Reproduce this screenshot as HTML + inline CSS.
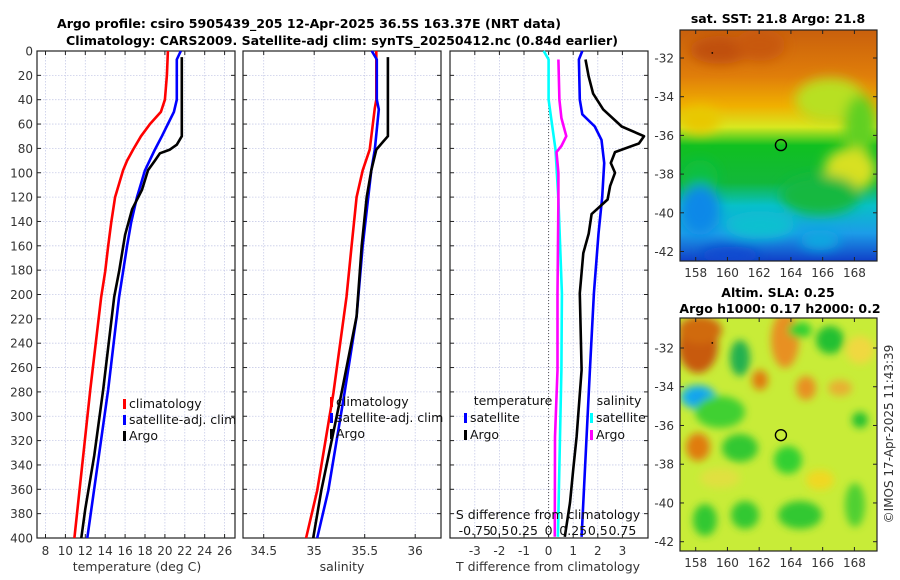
<!DOCTYPE html>
<html><head><meta charset="utf-8"><style>
html,body{margin:0;padding:0;background:#fff;}
svg{display:block;font-family:"DejaVu Sans","Liberation Sans",sans-serif;}
</style></head><body>
<svg id="fig" width="900" height="580" viewBox="0 0 900 580" xmlns="http://www.w3.org/2000/svg">
<defs>
<filter id="blur6" x="-30%" y="-30%" width="160%" height="160%"><feGaussianBlur stdDeviation="6"/></filter>
<filter id="blur4" x="-30%" y="-30%" width="160%" height="160%"><feGaussianBlur stdDeviation="4"/></filter>
<clipPath id="clipM1"><rect x="680" y="30" width="197" height="231"/></clipPath>
<clipPath id="clipM2"><rect x="680" y="318" width="197" height="233"/></clipPath>
<linearGradient id="sstGrad" x1="0" y1="0" x2="0" y2="1">
<stop offset="0" stop-color="#c9600c"/><stop offset="0.2" stop-color="#e07e0a"/>
<stop offset="0.33" stop-color="#f0b000"/><stop offset="0.42" stop-color="#d8e820"/>
<stop offset="0.5" stop-color="#10c020"/><stop offset="0.66" stop-color="#12b83a"/>
<stop offset="0.76" stop-color="#08c0c8"/><stop offset="0.88" stop-color="#1c9ce8"/>
<stop offset="1" stop-color="#1040c8"/></linearGradient>
</defs>
<g id="titles" font-weight="bold" font-size="12.5" text-anchor="middle" fill="#000">
<text x="309" y="28" textLength="504" lengthAdjust="spacingAndGlyphs">Argo profile: csiro 5905439_205 12-Apr-2025 36.5S 163.37E (NRT data)</text>
<text x="342" y="45" textLength="552" lengthAdjust="spacingAndGlyphs">Climatology: CARS2009. Satellite-adj clim: synTS_20250412.nc (0.84d earlier)</text>
</g>
<g id="p1"></g>
<g id="p2"></g>
<g id="p3"></g>
<g id="m1"></g>
<g id="m2"></g>
</svg>
<script>
// ---- data ----
const depthTicks = [0,20,40,60,80,100,120,140,160,180,200,220,240,260,280,300,320,340,360,380,400];
const tempTicks = [8,10,12,14,16,18,20,22,24,26];
const salTicks = [34.5,35,35.5,36];
const tdiffTicks = [-3,-2,-1,0,1,2,3];
const sdiffTicks = [-0.75,-0.5,-0.25,0,0.25,0.5,0.75];
const sdiffLabels = ["-0.75","0.5","0.25","0","0.25","0.5","0.75"];

const climTDepth = [0,20,40,50,60,70,81,90,98,120,141,160,181,202,278,400];
const climT = [20.3,20.2,20.0,19.6,18.5,17.6,16.8,16.2,15.8,15.0,14.6,14.3,14.0,13.6,12.5,10.9];
const satTDepth = [0,7,40,50,60,70,81,98,120,141,160,181,202,278,400];
const satT = [21.6,21.2,21.2,20.9,20.3,19.7,19.0,18.0,17.2,16.6,16.2,15.8,15.4,14.3,12.2];
const argoTDepth = [5,70,77,81,84,90,98,114,130,151,181,202,278,332,376,400];
const argoT = [21.7,21.7,21.2,20.5,19.5,19.0,18.3,17.7,16.7,16.0,15.4,14.9,13.8,12.9,12.0,11.6];

const climSDepth = [0,40,47,81,98,120,160,202,281,361,400];
const climS = [35.615,35.615,35.6,35.55,35.48,35.42,35.37,35.32,35.19,35.03,34.92];
const satSDepth = [0,7,40,48,81,98,160,218,281,361,400];
const satS = [35.57,35.62,35.62,35.64,35.6,35.565,35.48,35.42,35.30,35.14,35.03];
const argoSDepth = [5,70,81,98,120,160,218,281,361,400];
const argoS = [35.73,35.73,35.615,35.565,35.52,35.47,35.42,35.27,35.07,34.99];

const satTdDepth = [0,7,40,52,62,73,92,120,150,199,262,399];
const satTd = [1.37,1.23,1.27,1.37,1.88,2.15,2.26,2.18,2.03,1.84,1.68,1.34];
const argoTdDepth = [7,21,35,48,62,70,76,83,92,100,111,122,134,150,166,199,262,317,344,371,399];
const argoTd = [1.5,1.63,1.81,2.22,2.97,3.88,3.67,2.7,2.53,2.7,2.5,2.4,1.75,1.63,1.41,1.27,1.34,1.14,1.0,0.87,0.66];
const satSdDepth = [0,7,40,81,122,199,262,399];
const satSd = [-0.05,0,0,0.07,0.10,0.135,0.13,0.095];
const argoSdDepth = [7,40,55,70,78,83,100,122,199,262,317,399];
const argoSd = [0.10,0.11,0.13,0.18,0.13,0.08,0.10,0.10,0.09,0.09,0.065,0.063];

const lonTicks = [158,160,162,164,166,168];
const latTicks = [-32,-34,-36,-38,-40,-42];
const argoLon = 163.37, argoLat = -36.5;

// ---- helpers ----
const NS = "http://www.w3.org/2000/svg";
function mk(parent, tag, attrs){const e=document.createElementNS(NS,tag);for(const k in attrs)e.setAttribute(k,attrs[k]);parent.appendChild(e);return e;}
const yTop=51, yBot=538;
function yD(d){return yTop+(d/400)*(yBot-yTop);}

function drawAxes(g, x0, x1, xTicks, xScale, labels, showY){
  xTicks.forEach(t=>{const x=xScale(t);
    const l=mk(g,'line',{x1:x,x2:x,y1:yTop,y2:yBot,stroke:'#c8cce8','stroke-width':0.8,'stroke-dasharray':'1.5,1.5'});
    });
  depthTicks.forEach(d=>{const y=yD(d);
    const l=mk(g,'line',{x1:x0,x2:x1,y1:y,y2:y,stroke:'#c8cce8','stroke-width':0.8,'stroke-dasharray':'1.5,1.5'});
    });
  const fr=mk(g,'rect',{x:x0,y:yTop,width:x1-x0,height:yBot-yTop,fill:'none',stroke:'#222','stroke-width':1.2});
  
  xTicks.forEach((t,i)=>{const x=xScale(t);
    mk(g,'line',{x1:x,x2:x,y1:yBot,y2:yBot-4,stroke:'#222'});
    mk(g,'line',{x1:x,x2:x,y1:yTop,y2:yTop+4,stroke:'#222'});
    const tx=mk(g,'text',{x:x,y:yBot+17,'font-size':12,'text-anchor':'middle',fill:'#333'});
    tx.textContent=labels?labels[i]:String(t);
    });
  depthTicks.forEach(d=>{const y=yD(d);
    mk(g,'line',{x1:x0,x2:x0+4,y1:y,y2:y,stroke:'#222'});
    mk(g,'line',{x1:x1,x2:x1-4,y1:y,y2:y,stroke:'#222'});
    if(showY){const tx=mk(g,'text',{x:x0-4,y:y+4.5,'font-size':12,'text-anchor':'end',fill:'#333'});
      tx.textContent=String(d);
      }});
}
function drawLine(g, xs, ds, xScale, color, name, w){
  const pts=xs.map((v,i)=>xScale(v).toFixed(1)+','+yD(ds[i]).toFixed(1)).join(' ');
  const p=mk(g,'polyline',{points:pts,fill:'none',stroke:color,'stroke-width':w||2.6,'stroke-linejoin':'round'});
  
}
function legend(g, x, y, color, label){
  const r=mk(g,'rect',{x:x,y:y-9,width:3,height:10,fill:color});
  
  const t=mk(g,'text',{x:x+6,y:y,'font-size':12.5,fill:'#111'});t.textContent=label;
  
}
function label(g,x,y,txt,name,extra){const t=mk(g,'text',Object.assign({x:x,y:y,'font-size':12.5,'text-anchor':'middle',fill:'#333'},extra||{}));t.textContent=txt;return t;}

// ---- panel 1 ----
const p1=document.getElementById('p1');
const xT=t=>45.5+(t-8)*9.95;
drawAxes(p1,37,235,tempTicks,xT,null,true);
drawLine(p1,climT,climTDepth,xT,'#ff0000','climatology-temp-line');
drawLine(p1,satT,satTDepth,xT,'#0000ff','satellite-temp-line');
drawLine(p1,argoT,argoTDepth,xT,'#000000','argo-temp-line');
legend(p1,123,408,'#ff0000','climatology');
legend(p1,123,424,'#0000ff','satellite-adj. clim');
legend(p1,123,440,'#000000','Argo');
label(p1,137,571,'temperature (deg C)','x-axis-title');

// ---- panel 2 ----
const p2=document.getElementById('p2');
const xS=s=>263.7+(s-34.5)*101;
drawAxes(p2,243,441,salTicks,xS,null,false);
drawLine(p2,climS,climSDepth,xS,'#ff0000','climatology-salinity-line');
drawLine(p2,satS,satSDepth,xS,'#0000ff','satellite-salinity-line');
drawLine(p2,argoS,argoSDepth,xS,'#000000','argo-salinity-line');
legend(p2,330,406,'#ff0000','climatology');
legend(p2,330,422,'#0000ff','satellite-adj. clim');
legend(p2,330,438,'#000000','Argo');
label(p2,342,571,'salinity','x-axis-title');

// ---- panel 3 ----
const p3=document.getElementById('p3');
const xTd=t=>548.6+t*24.6;
const xSd=s=>548.6+s*4*24.6;
drawAxes(p3,450,648,tdiffTicks,xTd,null,false);
const zl=mk(p3,'line',{x1:xTd(0),x2:xTd(0),y1:yTop,y2:yBot,stroke:'#555','stroke-width':1,'stroke-dasharray':'1,2'});

drawLine(p3,satSd,satSdDepth,xSd,'#00ffff','satellite-salinity-diff-line');
drawLine(p3,argoSd,argoSdDepth,xSd,'#ff00ff','argo-salinity-diff-line');
drawLine(p3,satTd,satTdDepth,xTd,'#0000ff','satellite-temp-diff-line');
drawLine(p3,argoTd,argoTdDepth,xTd,'#000000','argo-temp-diff-line');
label(p3,513,405,'temperature','legend-title',{fill:'#111'});
legend(p3,464,422,'#0000ff','satellite');
legend(p3,464,439,'#000000','Argo');
label(p3,619,405,'salinity','legend-title',{fill:'#111'});
legend(p3,590,422,'#00ffff','satellite');
legend(p3,590,439,'#ff00ff','Argo');
label(p3,548,519,'S difference from climatology','s-axis-title',{fill:'#111'});
sdiffTicks.forEach((s,i)=>{label(p3,xSd(s),535,sdiffLabels[i],'s-tick-label',{fill:'#111','font-size':12.5});});
label(p3,548,571,'T difference from climatology','x-axis-title');

// ---- maps ----
function mapAxes(g,x0,y0,w,h,latTop,latScale,lonScale){
  const fr=mk(g,'rect',{x:x0,y:y0,width:w,height:h,fill:'none',stroke:'#222','stroke-width':1.2});
  
  lonTicks.forEach(l=>{const x=lonScale(l);
    mk(g,'line',{x1:x,x2:x,y1:y0+h,y2:y0+h-4,stroke:'#222'});mk(g,'line',{x1:x,x2:x,y1:y0,y2:y0+4,stroke:'#222'});
    const t=mk(g,'text',{x:x,y:y0+h+16,'font-size':12,'text-anchor':'middle',fill:'#333'});t.textContent=String(l);
    });
  latTicks.forEach(l=>{const y=latScale(l);
    mk(g,'line',{x1:x0,x2:x0+4,y1:y,y2:y,stroke:'#222'});mk(g,'line',{x1:x0+w,x2:x0+w-4,y1:y,y2:y,stroke:'#222'});
    const t=mk(g,'text',{x:x0-6,y:y+4.5,'font-size':12,'text-anchor':'end',fill:'#333'});t.textContent=String(l);
    });
}
function marker(g,lonS,latS){
  const c=mk(g,'circle',{cx:lonS(argoLon),cy:latS(argoLat),r:5.5,fill:'none',stroke:'#000','stroke-width':1.4});
  
  mk(g,'rect',{x:lonS(159),y:latS(-31.7),width:1.5,height:1.5,fill:'#000'});
}
const lon1=l=>695.7+(l-158)*15.87;
const lat1=l=>58+(-32-l)*19.35;
const m1=document.getElementById('m1');
const g1=mk(m1,'g',{'clip-path':'url(#clipM1)'});
mk(g1,'rect',{x:680,y:30,width:197,height:231,fill:'url(#sstGrad)'});
const bl1=mk(g1,'g',{filter:'url(#blur6)'});
[[720,50,30,14,'#c0500c'],[760,45,25,16,'#c8580c'],[830,100,35,22,'#b8e020'],[860,125,16,30,'#60d020'],[700,120,20,14,'#e8c800'],
 [850,170,26,22,'#d8e020'],[700,178,18,18,'#10c040'],[700,210,20,25,'#0a88e8'],[760,225,35,14,'#08c0d0'],[820,240,20,10,'#10a8e0'],[730,255,30,8,'#1048d0'],[820,195,40,20,'#12b840']
].forEach(b=>mk(bl1,'ellipse',{cx:b[0],cy:b[1],rx:b[2],ry:b[3],fill:b[4]}));
mapAxes(m1,680,30,197,231,-32,lat1,lon1);
marker(m1,lon1,lat1);
label(m1,778,23,'sat. SST: 21.8 Argo: 21.8','sst-map-title',{'font-weight':'bold','font-size':12.5,fill:'#000'});

const lon2=l=>695.7+(l-158)*15.87;
const lat2=l=>348+(-32-l)*19.37;
const m2=document.getElementById('m2');
const g2=mk(m2,'g',{'clip-path':'url(#clipM2)'});
mk(g2,'rect',{x:680,y:318,width:197,height:233,fill:'#c8ec38'});
const bl2=mk(g2,'g',{filter:'url(#blur4)'});
[[698,345,20,28,'#c85a10'],[700,330,22,14,'#d06a10'],[698,397,18,12,'#20b8e0'],[698,397,10,7,'#10a0f0'],[720,412,25,16,'#40d030'],
 [740,358,10,18,'#20b050'],[760,380,8,10,'#e07c10'],[785,340,14,28,'#e89020'],[806,388,10,12,'#e89020'],[830,340,14,14,'#20c030'],
 [800,330,12,8,'#30d030'],[698,447,12,14,'#e07c10'],[740,448,18,14,'#30c830'],[788,460,14,14,'#30d030'],[745,515,14,14,'#30c830'],
 [705,520,12,16,'#30c830'],[800,515,22,14,'#30c830'],[855,505,10,22,'#50d030'],[860,420,8,8,'#20c030'],[840,388,12,8,'#e8b030'],
 [720,478,20,10,'#e0e040'],[820,480,14,10,'#f0d820'],[860,350,14,14,'#f0d840']
].forEach(b=>mk(bl2,'ellipse',{cx:b[0],cy:b[1],rx:b[2],ry:b[3],fill:b[4]}));
mapAxes(m2,680,318,197,233,-32,lat2,lon2);
marker(m2,lon2,lat2);
label(m2,778,297,'Altim. SLA: 0.25','sla-map-title',{'font-weight':'bold','font-size':12.5,fill:'#000'});
label(m2,780,313,'Argo h1000: 0.17 h2000: 0.2','sla-map-subtitle',{'font-weight':'bold','font-size':12.5,fill:'#000'});
label(m2,0,0,'©IMOS 17-Apr-2025 11:43:39','copyright-label',{'font-size':12,fill:'#333',transform:'translate(893,434) rotate(-90)'});
</script>
</body></html>
